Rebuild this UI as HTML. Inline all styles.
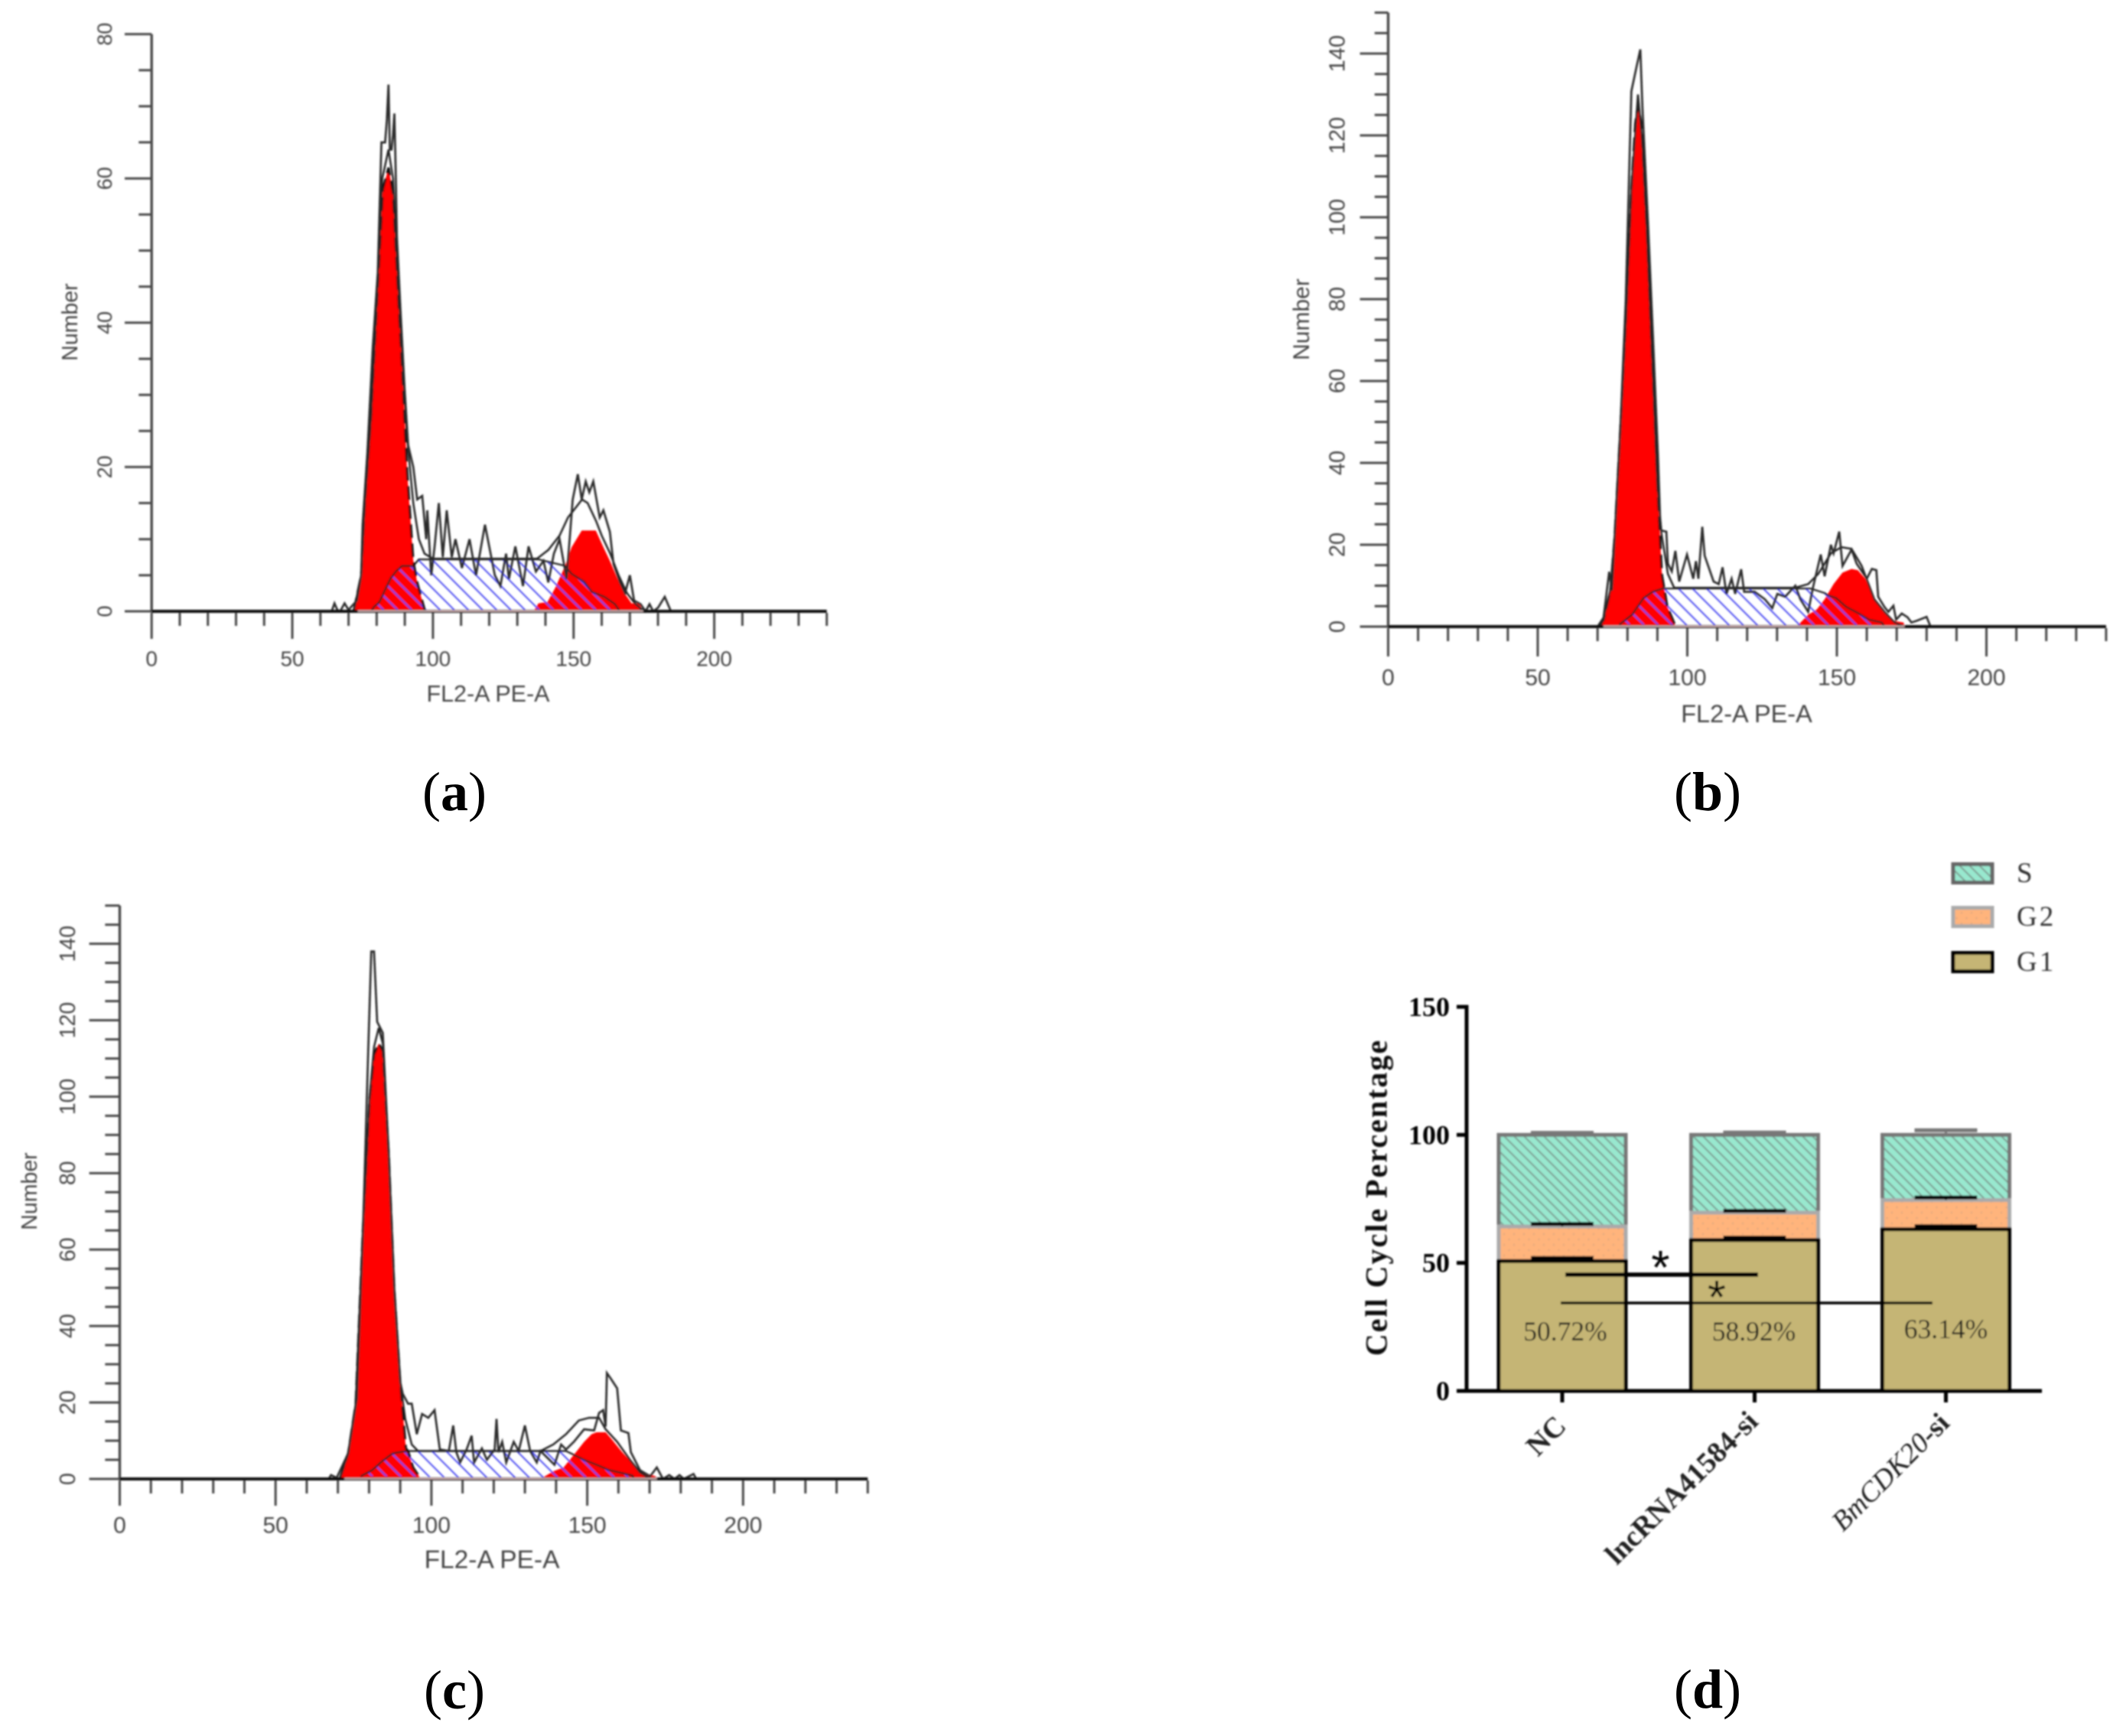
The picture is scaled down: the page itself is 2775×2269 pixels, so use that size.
<!DOCTYPE html>
<html lang="en">
<head>
<meta charset="utf-8">
<title>Cell cycle flow cytometry histograms and stacked bar chart</title>
<style>
html,body{margin:0;padding:0;background:#fff}
svg{display:block}
.sans{font-family:"Liberation Sans",sans-serif;fill:#444}
.serif{font-family:"Liberation Serif",serif;fill:#222}
</style>
</head>
<body>
<svg id="figure" xmlns="http://www.w3.org/2000/svg" width="2775" height="2269" viewBox="0 0 2775 2269">
  <defs>
    <filter id="soft" x="-2%" y="-2%" width="104%" height="104%"><feGaussianBlur stdDeviation="0.95"/></filter>
    <pattern id="blueHatch" patternUnits="userSpaceOnUse" width="18.5" height="18.5">
      <path d="M-2,-2 L20.5,20.5 M-2,16.5 L2,20.5 M16.5,-2 L20.5,2" stroke="#4a4af2" stroke-width="1.9" fill="none"/>
    </pattern>
    <pattern id="sHatch" patternUnits="userSpaceOnUse" width="13" height="13">
      <rect width="13" height="13" fill="#98e8cf"/>
      <path d="M-2,-2 L15,15 M-2,11 L2,15 M11,-2 L15,2" stroke="#7f9a90" stroke-width="2" fill="none"/>
    </pattern>
    <pattern id="g2Dots" patternUnits="userSpaceOnUse" width="13" height="14">
      <rect width="13" height="14" fill="#ffb47c"/>
      <circle cx="3" cy="3" r="1.1" fill="#d8a680"/>
      <circle cx="9.5" cy="10" r="1.1" fill="#d8a680"/>
    </pattern>
  </defs>
  <rect width="2775" height="2269" fill="#ffffff"/>
  <g id="root" filter="url(#soft)"></g>
</svg>
<script>
// ---------- shared tick labels ----------
const xTickLabels = [0, 50, 100, 150, 200];
const yTickLabelsA = [0, 20, 40, 60, 80];
const yTickLabelsBC = [0, 20, 40, 60, 80, 100, 120, 140];

// ---------- panel (a) ----------
const aRawCh = [64,65,66,67,68.6,70,71.8,73,74.5,75,76.7,78.6,80.4,81.7,83,83.6,84.2,84.7,85.3,85.8,86.3,86.7,87.2,88.5,89.9,91.2,93,94.4,96.2,97.6,98,99.4,100.6,102.1,103.5,104.9,106.7,108,110.3,113,115.3,118.5,122,124,126,127,129.3,132,134,136.6,139.3,141,143,145,147.5,149.7,151.5,152.9,154.3,155.6,157,159.3,160.6,162.9,164.2,166.5,168.3,170,171.5,173.8,175.6,177,178.3,180,182.4,184.6];
const aRawCount = [0,1.1,0.2,0,1.1,0.2,1,1.5,5,12,22,36.5,47,65,65,68,73,64,64,66,69,62,52,41.5,31,23,20,15.5,16,10,14,5,9,15,7.5,14,7.5,10,6,10,5,12,5,3.5,8,4.5,9,3.5,9,5.5,7,4,8,10,4.5,15.5,19,15.5,18,16.5,18,13,14,11,6.5,4,2.5,5,1.5,1,0,1,0,0.5,2,0];
const aFitCh = [72,74.5,75.8,78,80.4,82,84.2,85.8,87.2,89.4,90.8,93,95,97,100,137,141,145,148,150,153,155,158,160,163,166,169,172,175];
const aFitCount = [0.3,5,15,27,46,60,64,60,49,33,24,15,10,8,7.3,7.3,8.5,10.5,13,14,15.5,15,12.5,10.5,8,5,2.5,1,0];
const aG1Ch = [71.8,74.5,75.8,78,80.4,82.2,84.2,85.8,87.2,89.4,90.8,93,94.4,97.2];
const aG1Count = [0,5,15,27,45,58.5,61.5,58,47.5,31,19.5,7,4,0];
const aG2Ch = [136.1,137.5,140.7,143.4,147,149.3,152.9,157.9,160.6,162.9,165.6,168.3,170.6,173.3,174.7];
const aG2Count = [0.2,1.1,1.3,3.2,6.3,8.9,11.2,11.2,8.9,7,4.5,2.4,1.1,1.1,0];
const aSCh = [78,79,81,83,85,87,89,93,95,137.5,147,149.3,153.8,156.5,161,164.7,166.5];
const aSCount = [0,0.6,1.3,3,4.6,5.6,6.3,6.3,7.2,7.2,6.3,5.2,4.1,2.7,2,1,0];

// ---------- panel (b) ----------
const bRawCh = [66,70,72,73.9,74.8,77.6,79.4,81.3,83.1,84.3,85,86.9,88.7,90.2,90.9,91.3,93,93.5,94.8,96,97.3,99.9,102,102.9,103.7,105,105.8,108.8,110.5,111.8,113.1,114.8,116,118,119,122.5,125.9,128.4,130.1,132.7,136.1,137.8,140.4,142,144.6,145.9,148,148.9,150.8,151.9,154.9,156.6,160,161.7,163.2,163.8,165.9,167.2,168.9,169.8,171.7,173.6,174.9,176.6,180,181.3];
const bRawCount = [0,0,2.2,13.4,8.8,48,79.6,130.8,137,141,127,98,67.8,41.6,26.6,23.5,23.2,15.4,13.5,18.5,11,17.6,11.7,16,11.7,24.4,17.3,11,10.4,14.5,8,11.7,8,14,8.5,8.5,6.7,4.5,8,7.3,10,6.7,3.6,9.5,17.6,12.3,20,17.9,23.2,14.8,18.8,15.4,11.7,14.1,13.8,7.3,4.8,3.6,5.1,1.7,3.2,2.3,1,1.4,2.4,0];
const bFitCh = [71,72,74.3,75.7,77.6,79.4,81.3,83.5,85,86.5,88.1,90,91.3,93.5,95.6,136,140.4,143.8,148,151.5,154.9,158.3,162.5,165.9,169.3,172.8];
const bFitCount = [0,2,9,22,48,74,107,130,118,97,68,35,23,12.9,9.5,9.5,10.4,12.9,17.9,19.4,19,14.8,6.7,3.6,1,0];
const bG1Ch = [70.5,72,74.3,75.7,77.6,79.4,81.3,82.6,83.5,84.6,86.5,88.1,90,91.5,93.3,96.1];
const bG1Count = [0,1.6,8.8,21.9,48,74,107,123,127.5,123,96.7,67.8,35,12.7,4.9,0];
const bG2Ch = [136.5,140.4,143.3,145.9,148.9,151.9,154.9,157,159.5,162.5,165.5,168.9,172.3,172.6];
const bG2Count = [0,2.9,4.2,6.7,10.4,13.2,14.1,13.8,11.7,6.7,3.6,1.4,1,0];
const bSCh = [77.3,81.5,85.4,88.4,91.8,141.2,145.9,147.2,149.7,153.2,157.4,160.8,165,166];
const bSCount = [0.5,2.9,7,8.5,9.3,9.3,8.2,7.6,7,4.8,3.2,1.7,1,0];

// ---------- panel (c) ----------
const cRawCh = [67,67.8,69.6,73.3,76.1,78,79.8,80.7,81.6,82.6,84.4,86.3,88.1,90,90.8,92.5,93.7,95.3,97,99,101,102.7,105.6,107,108,109.2,111.3,112.9,113.7,116.2,117.8,120.3,120.9,121.5,122.7,124,126.4,128,130,131.7,133.8,135,139.5,141.6,143.2,145.7,149,152.2,153.8,155.1,155.9,156.3,157.5,159.6,160.8,163.2,164,166.9,170.2,172.3,174.3,176.3,178,179.6,181,184.1,185];
const cRawCount = [0,1,0.3,6.7,21,64,114,138,138,119.6,116.7,85,49.6,25.3,22.3,19.7,19.7,11.7,17,16,18,7.7,7.3,14,7,4.3,7.7,11.3,4.3,8,5,7.7,15.7,7,9.7,4.3,9.7,7.3,14,7.3,4.3,7.3,3.7,9,7.7,9.7,13,12.7,17.3,18,13.7,27.7,26.3,23.7,12.7,12,7,2.3,0.7,3,0,1,0,1,0,1.3,0];
const cFitCh = [70.6,73.3,75.7,78,80.2,81.6,83.1,84.4,86.3,88.1,90,91.6,93.7,95.7,135,139.1,143.2,147.3,150.6,153.8,155.9,159.6,163.7,166.9,170.2];
const cFitCount = [0,6.7,19.6,65,100,113,118,114,85,49.6,25.3,15.7,9,7.3,7.3,9,11.7,15.3,16,16,13,9.7,5,1.7,0];
const cG1Ch = [70.6,73.3,75.7,78,80.2,81.6,83.1,84.4,86.3,88.1,90,91.8,92.5,94.1,96.6];
const cG1Count = [0,6.7,19.6,65,99.6,111,113.9,112,85,49.6,25.3,8,7.3,3,0];
const cG2Ch = [135,139.1,142.4,145.7,149,151.4,153,155.9,157.5,161.2,164.5,167.8,171.9,172.3];
const cG2Count = [0,2,3,6.3,9.7,11.7,12.2,12.2,10.7,7,4,1.7,0.7,0];
const cSCh = [77.3,81,84.3,87.6,92,143.2,145.7,149,153,157.1,164.5,165];
const cSCount = [0.7,2.3,4.7,6.7,7.3,7.3,6.3,5,3.7,2.3,0.9,0];

// ---------- panel (d) ----------
const dCategories = ['NC', 'lncRNA41584-si', 'BmCDK20-si'];
const dG1Values = [50.72, 58.92, 63.14];
const dG2Values = [13.5, 10.7, 11.4];
const dSValues = [35.78, 30.38, 25.46];
const dG1Errors = [1.2, 1, 1.2];
const dG2Errors = [1, 0.7, 1];
const dSErrors = [0.8, 0.9, 1.8];
const dPercentLabels = ['50.72%', '58.92%', '63.14%'];
const dYTickLabels = [0, 50, 100, 150];
const dLegendLabels = ['S', 'G2', 'G1'];

// ---------- helpers ----------
const SVGNS = 'http://www.w3.org/2000/svg';
const root = document.getElementById('root');
const figure = document.getElementById('figure');
function add(tag, attrs, parent, text) {
  const node = document.createElementNS(SVGNS, tag);
  for (const key in attrs) node.setAttribute(key, attrs[key]);
  if (text !== undefined) node.textContent = text;
  (parent || root).appendChild(node);
  return node;
}
function pointsOf(chs, counts, xA, yA) {
  return chs.map((c, i) => xA(c).toFixed(1) + ',' + yA(counts[i]).toFixed(1)).join(' ');
}

// ---------- flow cytometry histogram ----------
function drawHistogram(p) {
  const xA = v => p.x0 + v * p.xUnit;
  const yA = v => p.y0 - v * p.yUnit;
  const g = add('g', {});
  
  

  const g1 = add('polygon', {points: pointsOf(p.g1Ch, p.g1Count, xA, yA), fill: '#ff0000', stroke: 'none'}, g);
  
  

  const g2 = add('polygon', {points: pointsOf(p.g2Ch, p.g2Count, xA, yA), fill: '#ff0000', stroke: 'none'}, g);
  
  

  const sArea = add('polygon', {points: pointsOf(p.sCh, p.sCount, xA, yA), fill: 'url(#blueHatch)', stroke: 'none'}, g);
  
  

  const sLine = add('polyline', {points: pointsOf(p.sCh, p.sCount, xA, yA), fill: 'none', stroke: '#1c1c1c', 'stroke-width': 2.2}, g);
  
  

  const g1Edge = add('polyline', {points: pointsOf(p.g1Ch, p.g1Count, xA, yA), fill: 'none', stroke: '#111', 'stroke-width': 3, 'stroke-dasharray': '18 7'}, g);
  
  

  const fit = add('polyline', {points: pointsOf(p.fitCh, p.fitCount, xA, yA), fill: 'none', stroke: '#222', 'stroke-width': 2.5}, g);
  
  

  const raw = add('polyline', {points: pointsOf(p.rawCh, p.rawCount, xA, yA), fill: 'none', stroke: '#2a2a2a', 'stroke-width': 2.7}, g);
  
  

  // axes
  const yAxis = add('line', {x1: xA(0), x2: xA(0), y1: yA(p.yMax), y2: yA(0), stroke: '#4a4a4a', 'stroke-width': 3.4}, g);
  
  

  const xAxis = add('line', {x1: xA(0), x2: xA(240), y1: yA(0), y2: yA(0), stroke: '#111', 'stroke-width': 4}, g);
  
  

  const strip = add('line', {x1: xA(p.g1Ch[0] + 1.5), x2: xA(p.g2Ch[p.g2Ch.length - 1]), y1: yA(0) - 0.5, y2: yA(0) - 0.5, stroke: '#f4d0d0', 'stroke-width': 1.6}, g);
  
  

  for (let v = 0; v <= 240; v += 10) {
    const major = v % 50 === 0;
    const t = add('line', {x1: xA(v), x2: xA(v), y1: yA(0) + 2, y2: yA(0) + (major ? p.majorLen : p.minorLen), stroke: '#4a4a4a', 'stroke-width': 3}, g);
    
    
  }
  for (let v = 0; v <= p.yMax; v += 5) {
    const major = v % 20 === 0;
    const left = major ? p.yTickLeft : xA(0) - (xA(0) - p.yTickLeft) * 0.48;
    const t = add('line', {x1: left, x2: xA(0), y1: yA(v), y2: yA(v), stroke: '#4a4a4a', 'stroke-width': 3}, g);
    
    
  }
  xTickLabels.forEach(v => {
    const t = add('text', {x: xA(v), y: p.xLabelY, 'text-anchor': 'middle', 'dominant-baseline': 'central', 'font-size': p.xTickFont, class: 'sans'}, g, String(v));
    
    
  });
  p.yLabels.forEach(v => {
    const t = add('text', {x: p.yLabelX, y: yA(v), 'text-anchor': 'middle', 'dominant-baseline': 'central', 'font-size': p.yTickFont, class: 'sans', transform: 'rotate(-90 ' + p.yLabelX + ' ' + yA(v) + ')'}, g, String(v));
    
    
  });
  const xTitle = add('text', {x: p.xTitleX, y: p.xTitleY, 'text-anchor': 'middle', 'dominant-baseline': 'central', 'font-size': p.titleFont, class: 'sans'}, g, 'FL2-A PE-A');
  
  

  const yTitle = add('text', {x: p.yTitleX, y: p.yTitleY, 'text-anchor': 'middle', 'dominant-baseline': 'central', 'font-size': p.numberFont, class: 'sans', transform: 'rotate(-90 ' + p.yTitleX + ' ' + p.yTitleY + ')'}, g, 'Number');
  
  
}

function drawCaption(x, baseline, letter) {
  const t = add('text', {x: x, y: baseline, 'text-anchor': 'middle', 'font-size': 72, class: 'serif', style: 'fill:#000'}, figure);
  
  
  add('tspan', {}, t, '(');
  add('tspan', {'font-weight': 'bold'}, t, letter);
  add('tspan', {}, t, ')');
}

drawHistogram({
  name: 'histogram-panel-a', x0: 198.2, xUnit: 3.677, y0: 799, yUnit: 9.43, yMax: 80,
  yTickLeft: 163, minorLen: 19, majorLen: 36, xLabelY: 861, yLabelX: 137, xTitleX: 638, xTitleY: 907,
  yTitleX: 92, yTitleY: 421, xTickFont: 28, yTickFont: 27, titleFont: 30.5, numberFont: 28.5, yLabels: yTickLabelsA,
  rawCh: aRawCh, rawCount: aRawCount, fitCh: aFitCh, fitCount: aFitCount, g1Ch: aG1Ch, g1Count: aG1Count,
  g2Ch: aG2Ch, g2Count: aG2Count, sCh: aSCh, sCount: aSCount
});
drawHistogram({
  name: 'histogram-panel-b', x0: 1814.5, xUnit: 3.91, y0: 819, yUnit: 5.35, yMax: 150,
  yTickLeft: 1777.6, minorLen: 19, majorLen: 39, xLabelY: 886, yLabelX: 1748.6, xTitleX: 2283, xTitleY: 933,
  yTitleX: 1701.5, yTitleY: 417.5, xTickFont: 30, yTickFont: 29, titleFont: 32.5, numberFont: 30, yLabels: yTickLabelsBC,
  rawCh: bRawCh, rawCount: bRawCount, fitCh: bFitCh, fitCount: bFitCount, g1Ch: bG1Ch, g1Count: bG1Count,
  g2Ch: bG2Ch, g2Count: bG2Count, sCh: bSCh, sCount: bSCount
});
drawHistogram({
  name: 'histogram-panel-c', x0: 156.5, xUnit: 4.074, y0: 1933, yUnit: 4.996, yMax: 150,
  yTickLeft: 116.6, minorLen: 19, majorLen: 35, xLabelY: 1994, yLabelX: 89, xTitleX: 643, xTitleY: 2039,
  yTitleX: 39, yTitleY: 1557, xTickFont: 30, yTickFont: 28.5, titleFont: 33.5, numberFont: 28.5, yLabels: yTickLabelsBC,
  rawCh: cRawCh, rawCount: cRawCount, fitCh: cFitCh, fitCount: cFitCount, g1Ch: cG1Ch, g1Count: cG1Count,
  g2Ch: cG2Ch, g2Count: cG2Count, sCh: cSCh, sCount: cSCount
});

drawCaption(594, 1059, 'a');
drawCaption(2232, 1059, 'b');
drawCaption(594, 2233, 'c');
drawCaption(2232, 2232, 'd');

// ---------- stacked bar chart ----------
(function drawBars() {
  const yV = v => 1818 - v * 3.347;
  const xC = i => [2042, 2293.5, 2543.5][i];
  const barW = 171;
  const g = add('g', {});
  
  

  dCategories.forEach((cat, i) => {
    const x = xC(i) - barW / 2 + 2.5;
    const w = barW - 5;
    const g1Top = dG1Values[i];
    const g2Top = g1Top + dG2Values[i];
    const sTop = g2Top + dSValues[i];

    const sRect = add('rect', {x: x, y: yV(sTop), width: w, height: yV(g2Top) - yV(sTop), fill: 'url(#sHatch)', stroke: '#777', 'stroke-width': 5}, g);
    
    

    const g2Rect = add('rect', {x: x, y: yV(g2Top), width: w, height: yV(g1Top) - yV(g2Top), fill: 'url(#g2Dots)', stroke: '#aaa', 'stroke-width': 5}, g);
    
    

    const g1Rect = add('rect', {x: x, y: yV(g1Top), width: w, height: yV(0) - yV(g1Top), fill: '#c5b574', stroke: '#000', 'stroke-width': 5}, g);
    
    

    [[sTop, dSErrors[i], '#777'], [g2Top, dG2Errors[i], '#000'], [g1Top, dG1Errors[i], '#000']].forEach(spec => {
      const top = spec[0] + spec[1];
      const stem = add('line', {x1: xC(i), x2: xC(i), y1: yV(spec[0]), y2: yV(top), stroke: spec[2], 'stroke-width': 3}, g);
      
      
      const cap = add('line', {x1: xC(i) - 41, x2: xC(i) + 41, y1: yV(top), y2: yV(top), stroke: spec[2], 'stroke-width': 5}, g);
      
      
    });

    const tick = add('line', {x1: xC(i), x2: xC(i), y1: yV(0), y2: yV(0) + 15, stroke: '#000', 'stroke-width': 5}, g);
    
    

    const pct = add('text', {x: xC(i) + (i === 0 ? 4 : (i === 1 ? -1 : 0)), y: i === 2 ? 1737 : 1740, 'text-anchor': 'middle', 'dominant-baseline': 'central', 'font-size': 35.5, class: 'serif', style: 'fill:#1c1c1c'}, g, dPercentLabels[i]);
    
    
  });

  // axes
  const axisY = add('line', {x1: 1917, x2: 1917, y1: yV(150) - 2.5, y2: yV(0) + 2.5, stroke: '#000', 'stroke-width': 5}, g);
  
  

  const axisX = add('line', {x1: 1904, x2: 2669, y1: yV(0), y2: yV(0), stroke: '#000', 'stroke-width': 5}, g);
  
  

  dYTickLabels.forEach(v => {
    const t = add('line', {x1: 1904, x2: 1917, y1: yV(v), y2: yV(v), stroke: '#000', 'stroke-width': 5}, g);
    
    
    const l = add('text', {x: 1895, y: yV(v), 'text-anchor': 'end', 'dominant-baseline': 'central', 'font-size': 36, 'font-weight': 'bold', class: 'serif', style: 'fill:#000'}, g, String(v));
    
    
  });

  const yTitle = add('text', {x: 1799, y: 1565, 'text-anchor': 'middle', 'dominant-baseline': 'central', 'font-size': 40, 'font-weight': 'bold', 'letter-spacing': 2, class: 'serif', style: 'fill:#111', transform: 'rotate(-90 1799 1565)'}, g, 'Cell Cycle Percentage');
  
  

  // category labels
  const ncLabel = add('text', {x: 2049, y: 1866, 'text-anchor': 'end', 'font-size': 38, 'font-weight': 'bold', class: 'serif', transform: 'rotate(-45 2049 1866)'}, g, dCategories[0]);
  
  

  const lncLabel = add('text', {x: 2300, y: 1860, 'text-anchor': 'end', 'font-size': 38, 'font-weight': 'bold', class: 'serif', transform: 'rotate(-45 2300 1860)'}, g, dCategories[1]);
  
  

  const bmLabel = add('text', {x: 2550, y: 1862, 'text-anchor': 'end', 'font-size': 37, class: 'serif', transform: 'rotate(-45 2550 1862)'}, g);
  
  
  add('tspan', {'font-style': 'italic'}, bmLabel, dCategories[2].replace('-si', ''));
  add('tspan', {'font-weight': 'bold'}, bmLabel, '-si');

  // significance brackets
  const sig1 = add('line', {x1: 2046, x2: 2298, y1: 1666, y2: 1666, stroke: '#000', 'stroke-width': 5.5}, g);
  
  

  const sig2 = add('line', {x1: 2040, x2: 2526, y1: 1703, y2: 1703, stroke: '#000', 'stroke-width': 3.6}, g);
  
  

  const star1 = add('text', {x: 2170.5, y: 1678, 'text-anchor': 'middle', 'font-size': 62, class: 'sans', style: 'fill:#000'}, g, '*');
  
  

  const star2 = add('text', {x: 2244, y: 1717, 'text-anchor': 'middle', 'font-size': 62, class: 'sans', style: 'fill:#000'}, g, '*');
  
  

  // legend
  const legendFill = ['url(#sHatch)', 'url(#g2Dots)', '#c5b574'];
  const legendStroke = ['#666', '#aaa', '#000'];
  const legendTop = [1127, 1184, 1243];
  dLegendLabels.forEach((label, i) => {
    const swatch = add('rect', {x: 2553, y: legendTop[i] + 2.5, width: 51, height: 24, fill: legendFill[i], stroke: legendStroke[i], 'stroke-width': 5}, g);
    
    
    const text = add('text', {x: 2636, y: legendTop[i] + 14.5, 'dominant-baseline': 'central', 'font-size': 37, 'letter-spacing': 3, class: 'serif', style: 'fill:#333'}, g, label);
    
    
  });
})();
</script>
</body>
</html>
